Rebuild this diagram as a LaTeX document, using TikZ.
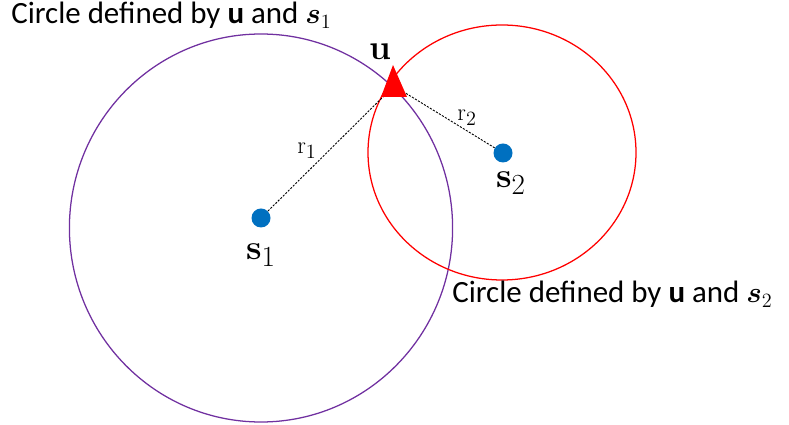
\documentclass[tikz,border=0pt]{standalone}
\usepackage{amsmath,amssymb}
\usepackage[no-math]{fontspec}
\setmainfont{Carlito}
\usepackage{tikz}
\usetikzlibrary{arrows.meta}

\definecolor{circpurple}{HTML}{7030A0}
\definecolor{dotblue}{HTML}{0070C0}

\begin{document}
\begin{tikzpicture}[x=0.025cm, y=-0.025cm,
		dot/.style={circle, fill=dotblue, inner sep=0pt, minimum size=0.475cm},
		rline/.style={line width=0.65pt, dash pattern=on 1.5pt off 1pt},
		lbl/.style={inner sep=0pt, anchor=base, font=\fontsize{28}{32}\selectfont},
		rlbl/.style={inner sep=0pt, anchor=base, font=\fontsize{19}{22}\selectfont},
		capt/.style={inner sep=0pt, anchor=base west, font=\fontsize{22}{26}\selectfont}]
			\useasboundingbox (0, 0) rectangle (789, 425);
			% Circles
			\draw[circpurple, line width=0.9pt] (261, 228) ellipse [x radius=191.6, y radius=194];
			\draw[red, line width=0.9pt] (502, 152.5) ellipse [x radius=134, y radius=127.5];
			% Sensors and target
			\node[dot] (s1) at (261, 218) {};
			\node[dot] (s2) at (503, 153) {};
			\coordinate (u) at (394, 86);
			% Ranges
			\draw[rline] (s1) -- (u);
			\draw[rline] (u) -- (s2);
			\fill[red] (393, 65) -- (407, 97) -- (381, 97) -- cycle;
			% Labels
			\node[lbl] (ulab) at (380, 60) {$\mathbf{u}$};
			\node[lbl] (s1lab) at (261, 260) {$\mathbf{s}_1$};
			\node[lbl] (s2lab) at (511, 188) {$\mathbf{s}_2$};
			\node[rlbl] (r1lab) at (307, 154) {$\mathrm{r}_1$};
			\node[rlbl] (r2lab) at (467, 121) {$\mathrm{r}_2$};
			\node[capt] (capt1) at (11, 24) {Circle defined by \textbf{u} and $\boldsymbol{s}_1$};
			\node[capt] (capt2) at (452, 303) {Circle defined by \textbf{u} and $\boldsymbol{s}_2$};
		\end{tikzpicture}
\end{document}
